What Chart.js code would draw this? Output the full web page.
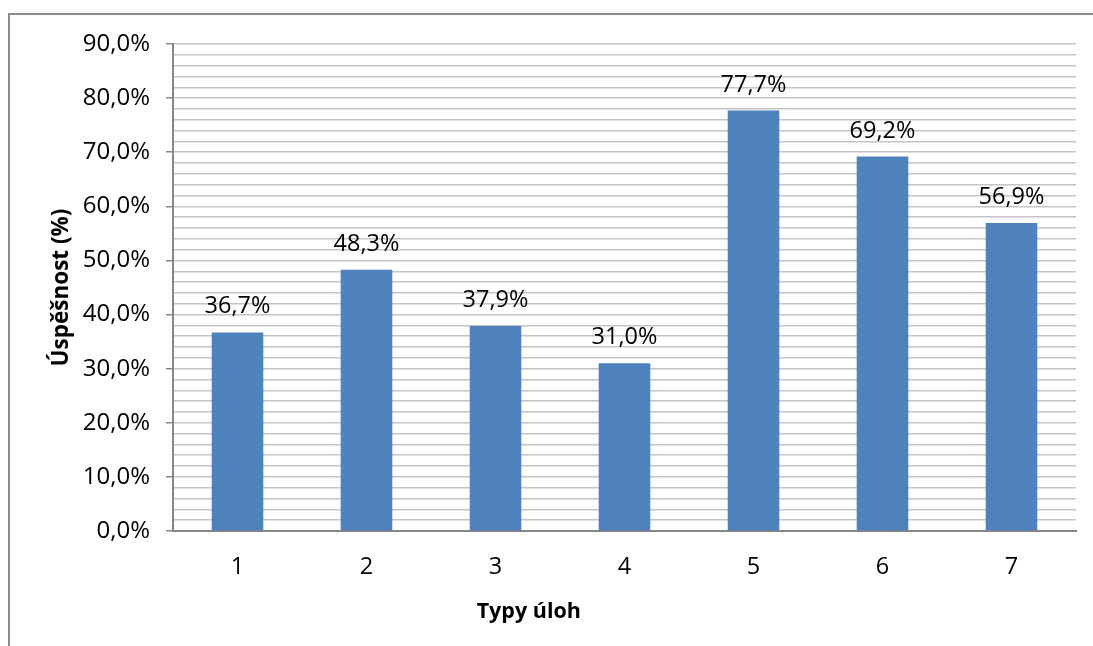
<!DOCTYPE html>
<html>
<head>
<meta charset="utf-8">
<script src="https://cdn.jsdelivr.net/npm/chart.js@4/dist/chart.umd.min.js"></script>
<style>
  html, body { margin: 0; padding: 0; background: #fff; }
  #wrap { width: 1093px; height: 646px; position: relative; }
</style>
</head>
<body>
<div id="wrap"><canvas id="c" width="1093" height="646"></canvas></div>
<script>
// Úspěšnost podle typu úloh
const categories = ['1', '2', '3', '4', '5', '6', '7'];
const successRate = [36.7, 48.3, 37.9, 31.0, 77.7, 69.2, 56.9];
const yTitle = 'Úspěšnost (%)';
const xTitle = 'Typy úloh';

const FONT = "'Open Sans', 'Liberation Sans', sans-serif";
const fmt = v => v.toFixed(1).replace('.', ',') + '%';

// outer frame of the chart object
const framePlugin = {
  id: 'frame',
  beforeDraw(chart) {
    const ctx = chart.ctx;
    ctx.save();
    ctx.fillStyle = '#ffffff';
    ctx.fillRect(0, 0, chart.width, chart.height);
    ctx.strokeStyle = '#8c8c8c';
    ctx.lineWidth = 2;
    ctx.beginPath();
    ctx.moveTo(9, chart.height + 2);
    ctx.lineTo(9, 14);
    ctx.lineTo(chart.width + 2, 14);
    ctx.stroke();
    ctx.restore();
  }
};

// value labels above each bar, plus the category axis title
const valueLabels = {
  id: 'valueLabels',
  afterDatasetsDraw(chart) {
    const ctx = chart.ctx;
    const meta = chart.getDatasetMeta(0);
    ctx.save();
    ctx.font = '23.5px ' + FONT;
    ctx.fillStyle = '#000';
    ctx.textAlign = 'center';
    ctx.textBaseline = 'alphabetic';
    meta.data.forEach((bar, i) => {
      ctx.fillText(fmt(successRate[i]), bar.x, bar.y - 19);
    });
    // axis title sits left of the plot centre
    const xs = chart.scales.x;
    ctx.font = 'bold 21.5px ' + FONT;
    ctx.textBaseline = 'middle';
    ctx.fillText(xTitle, xs.left + (xs.right - xs.left) * 0.394, 612);
    ctx.restore();
  }
};

new Chart(document.getElementById('c'), {
  type: 'bar',
  data: {
    labels: categories,
    datasets: [{
      data: successRate,
      backgroundColor: '#4f81bd',
      borderWidth: 0,
      categoryPercentage: 1,
      barPercentage: 0.4
    }]
  },
  options: {
    responsive: false,
    animation: false,
    devicePixelRatio: 1,
    layout: { padding: { top: 44, right: 17, left: 10, bottom: 0 } },
    plugins: {
      legend: { display: false },
      tooltip: { enabled: false }
    },
    scales: {
      x: {
        grid: { display: false, drawTicks: false },
        border: { display: true, color: '#868686', width: 2 },
        ticks: { color: '#000', font: { family: FONT, size: 23.5 }, padding: 22 },
        afterFit(scale) { scale.height = 115; }
      },
      y: {
        min: 0, max: 90,
        ticks: {
          stepSize: 2,
          autoSkip: false,
          color: '#000',
          font: { family: FONT, size: 24 },
          padding: 16,
          callback: v => (Math.round(v) % 10 === 0 ? v.toFixed(1).replace('.', ',') + '%' : '')
        },
        grid: {
          color: '#c4c4c4',
          lineWidth: 1.5,
          tickLength: 7,
          tickColor: c => (Math.round(c.tick.value) % 10 === 0 ? '#868686' : 'rgba(0,0,0,0)')
        },
        border: { display: true, color: '#868686', width: 2 },
        title: {
          display: true, text: yTitle, color: '#000',
          font: { family: FONT, size: 22.5, weight: 'bold' }, padding: { top: 38, bottom: 0 }
        },
        afterFit(scale) { scale.width = 163; }
      }
    }
  },
  plugins: [framePlugin, valueLabels]
});
</script>
</body>
</html>
